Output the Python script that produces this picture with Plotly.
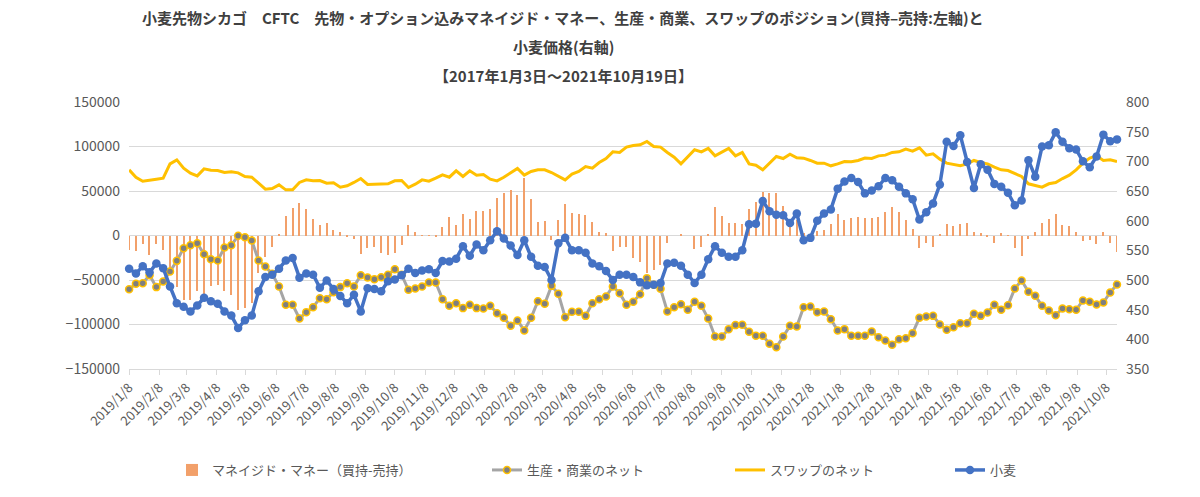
import pandas as pd
import plotly.graph_objects as go

# weekly CFTC dates (Tuesdays)
dates = pd.date_range('2019-01-08', periods=146, freq='7D')

# マネイジド・マネー (買持-売持)
managed_money = [-16100,-16900,-9400,-21700,-9400,-16100,-36700,-58000,-72300,-72300,-62900,-65500,-56600,-55800,-62900,-66700,-83500,-82000,-76000,-41600,-23600,-13100,800,22100,30700,36300,30300,18400,11600,14600,6000,3400,-1100,-3400,-20600,-14600,
                 -12400,-19100,-21700,-19900,-10900,11600,4500,400,400,-1900,10100,20600,12000,24300,19100,27000,27300,29600,41600,48300,51300,45700,64400,41200,15400,16500,-5600,16900,35600,25800,24300,23200,15400,3700,2600,-16900,-12400,
                 -13100,-25500,-30300,-41600,-38600,-33000,-8600,0,1500,0,-15400,-12400,1500,31800,22100,14600,13900,12400,30300,37800,49100,48300,48300,32600,10100,17600,2600,400,5600,6400,12700,24300,16900,20200,20600,19500,19500,
                 21300,26600,31800,26600,16900,7100,-14600,-7900,-13100,1100,13100,10900,12400,13900,4500,2600,-1100,-8600,2600,400,-13900,-22800,-3400,3400,14600,18400,24300,11600,10900,4500,-6400,-5600,-10100,4500,-8600,-18000]

# 生産・商業のネット
producer = [-60300,-54300,-53600,-44600,-58000,-51700,-40400,-28500,-14200,-10900,-8600,-21000,-26600,-28100,-13500,-10900,-400,-1900,-5600,-28100,-34800,-43100,-57300,-77900,-77900,-93300,-86100,-80500,-70400,-71500,-63700,-58000,-53600,-57300,-44600,-47200,
            -49100,-46800,-44200,-37800,-44200,-61000,-59600,-57300,-52800,-52800,-71500,-79000,-76000,-81600,-77900,-81600,-82000,-79000,-87300,-92500,-101500,-95500,-106700,-92500,-73800,-76800,-56600,-65500,-91800,-85800,-85800,-90300,-76000,-71500,-68500,-57300,-64800,
            -77900,-74500,-65900,-47900,-55400,-59900,-85400,-80500,-77200,-83500,-74500,-79000,-93300,-113500,-113500,-105200,-100700,-100400,-108200,-112700,-112700,-121700,-125500,-113500,-101500,-102200,-80500,-79800,-86100,-85400,-94000,-106700,-105200,-112700,-112700,-112700,-107900,
            -114200,-118000,-122800,-116500,-115400,-109700,-92500,-91000,-90300,-100000,-106000,-103000,-98500,-98500,-88000,-90300,-86500,-77900,-83500,-78300,-59600,-50600,-63300,-67800,-79000,-84300,-89500,-82000,-82800,-83500,-73000,-74500,-77500,-75300,-64000,-55100]

# スワップのネット
swap = [73800,65500,61000,62500,63300,64400,80500,85000,75700,70000,67000,74900,73400,73000,70800,71500,70400,66300,65500,58800,52100,52800,56900,51300,51300,59600,62500,61400,61800,58800,59200,54300,55800,59600,64000,57300,
        57300,57300,58100,61400,61800,53900,57700,62500,61000,64400,68200,65500,72700,66300,72700,67800,68500,63300,61400,65500,70800,75300,67800,71900,73800,73800,70800,66300,62500,68900,71900,77500,75700,82000,86500,94000,93300,
        99300,101100,101900,105600,100000,99300,93300,88000,80500,88800,96300,94000,97800,89500,94000,97800,89500,93300,80500,79000,73800,81300,88800,86500,91400,87300,86900,84300,81300,81300,78300,80500,83100,82800,84300,87000,86500,
        89500,90300,93300,94000,97000,94800,98500,90300,91800,85800,81300,79400,78300,80500,84300,82000,80500,76800,73800,73000,70000,66300,58100,55800,54300,58100,59600,64000,67800,73800,81300,86900,89500,84300,85000,83100]

# 小麦 (右軸)
wheat = [519,511,523,513,528,520,489,461,455,447,457,470,464,460,447,440,419,432,440,481,505,509,519,533,537,504,511,509,487,499,485,473,461,475,447,486,
         485,481,498,501,508,519,512,516,518,512,532,531,536,557,541,560,550,567,582,570,558,542,567,539,524,522,500,562,571,550,550,546,528,523,515,500,509,
         509,505,496,491,492,495,528,529,524,509,495,509,535,557,546,539,539,550,594,595,633,616,610,609,596,612,567,571,600,612,619,654,666,672,665,646,651,
         658,672,668,657,646,636,602,614,629,661,733,726,744,699,655,695,686,662,657,647,626,634,702,674,725,727,749,733,722,720,700,690,708,745,734,737]

# monthly ticks on the 8th: 2019/1/8 .. 2021/10/8
tick_dates = pd.date_range('2019-01-01', '2021-10-01', freq='MS') + pd.Timedelta(days=7)
tick_labels = [f'{d.year}/{d.month}/{d.day}' for d in tick_dates]

title_lines = ['小麦先物シカゴ　CFTC　先物・オプション込みマネイジド・マネー、生産・商業、スワップのポジション(買持–売持:左軸)と',
               '小麦価格(右軸)',
               '【2017年1月3日～2021年10月19日】']

FONT = 'Noto Sans CJK JP'
GREY_TXT = '#595959'

# page body has an 8px margin, so the figure is drawn 8px in from the window edge
OFF = 8
W, H = 1200 - OFF, 497 - OFF
# plot box in window pixels: x 129..1117, y 102..369
L, R, T, B = 129 - OFF, W - (1117 - OFF), 102 - OFF, H - (369 - OFF)


def px(x):
    # window x pixel -> paper coordinate
    return (x - OFF - L) / (W - L - R)


def py(y):
    # window y pixel -> paper coordinate
    return (H - B - (y - OFF)) / (H - T - B)


fig = go.Figure()
fig.add_trace(go.Bar(x=dates, y=managed_money, name='マネイジド・マネー（買持-売持）',
                     marker=dict(color='#F2A06A', line=dict(width=0)),
                     width=1.25 * 86400000, legend='legend', showlegend=True))
fig.add_trace(go.Scatter(x=dates, y=producer, name='生産・商業のネット', mode='lines+markers',
                         line=dict(color='#A5A5A5', width=3),
                         marker=dict(color='#7F7F7F', size=7, line=dict(color='#FFC000', width=1.5)),
                         cliponaxis=False, legend='legend2', showlegend=True))
fig.add_trace(go.Scatter(x=dates, y=swap, name='スワップのネット', mode='lines',
                         line=dict(color='#FFC000', width=3), legend='legend3', showlegend=True))
fig.add_trace(go.Scatter(x=dates, y=wheat, name='小麦', mode='lines+markers', yaxis='y2',
                         line=dict(color='#4472C4', width=3.5),
                         marker=dict(color='#4472C4', size=8.5),
                         cliponaxis=False, legend='legend4', showlegend=True))

annotations = []
for text, y in zip(title_lines, [18, 47, 75]):
    annotations.append(dict(text='<b>' + text + '</b>', x=px(563), y=py(y), xref='paper', yref='paper',
                            showarrow=False, xanchor='center', yanchor='middle',
                            font=dict(family=FONT, size=15, color='#404040')))

leg = dict(orientation='h', yanchor='middle', y=py(470), bgcolor='rgba(0,0,0,0)',
           font=dict(family=FONT, size=13, color=GREY_TXT))

fig.update_layout(
    width=W, height=H,
    margin=dict(l=L, r=R, t=T, b=B, autoexpand=False),
    plot_bgcolor='white', paper_bgcolor='white',
    font=dict(family=FONT, color=GREY_TXT),
    showlegend=True,
    bargap=0,
    annotations=annotations,
    legend=dict(leg, x=px(172)),
    legend2=dict(leg, x=px(487)),
    legend3=dict(leg, x=px(730)),
    legend4=dict(leg, x=px(950)),
    xaxis=dict(type='date', range=[dates[0] - pd.Timedelta(hours=3), dates[-1]], showgrid=False,
               tickvals=tick_dates, ticktext=tick_labels, tickangle=-45,
               ticks='outside', ticklen=5, tickcolor='#D9D9D9',
               showline=True, linecolor='#D9D9D9',
               tickfont=dict(family=FONT, size=13, color=GREY_TXT)),
    yaxis=dict(range=[-150000, 150000], dtick=50000, tickformat='d',
               gridcolor='#D9D9D9', zeroline=False, ticklabelstandoff=8,
               tickfont=dict(family=FONT, size=14, color=GREY_TXT)),
    yaxis2=dict(range=[350, 800], dtick=50, overlaying='y', side='right',
                showgrid=False, zeroline=False, ticklabelstandoff=8,
                tickfont=dict(family=FONT, size=14, color=GREY_TXT)),
)

fig.write_html('out.html')
